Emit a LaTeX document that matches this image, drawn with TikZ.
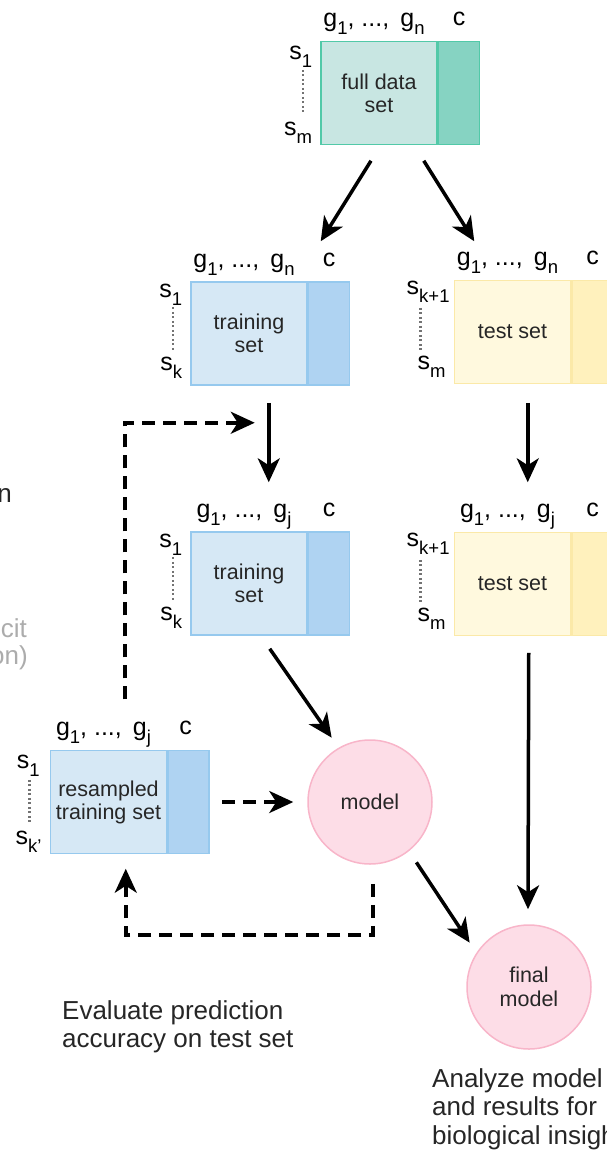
\documentclass[tikz,border=0pt]{standalone}
\usepackage{fontspec}
\setmainfont{Liberation Sans}
\usetikzlibrary{arrows.meta,calc,positioning}
\definecolor{tealfill}{HTML}{C8E6E2}
\definecolor{tealdark}{HTML}{86D3C2}
\definecolor{tealline}{HTML}{52C9A8}
\definecolor{bluefill}{HTML}{D6E8F5}
\definecolor{bluedark}{HTML}{AFD3F2}
\definecolor{blueline}{HTML}{96C9EE}
\definecolor{yellowfill}{HTML}{FFF9DE}
\definecolor{yellowdark}{HTML}{FFF1BD}
\definecolor{yellowline}{HTML}{FBE9A8}
\definecolor{pinkfill}{HTML}{FDDDE7}
\definecolor{pinkline}{HTML}{F8B5C9}
\newcommand\subs[1]{\raisebox{-8pt}{\fontsize{18.5}{18.5}\selectfont #1}}
\tikzset{
    tealset/.style={
           rectangle,
           draw=tealline, fill=tealfill, line width=1.5pt,
           minimum width=116pt, minimum height=103pt,
           inner sep=0pt, align=center, text=black!85,
           font=\fontsize{21.5}{23}\selectfont},
    tealcol/.style={
           rectangle,
           draw=tealline, fill=tealdark, line width=1.5pt,
           minimum width=41pt, minimum height=103pt},
    blueset/.style={tealset, draw=blueline, fill=bluefill},
    bluecol/.style={tealcol, draw=blueline, fill=bluedark},
    yellowset/.style={tealset, draw=yellowline, fill=yellowfill},
    yellowcol/.style={tealcol, draw=yellowline, fill=yellowdark},
    modelnode/.style={
           circle,
           draw=pinkline, fill=pinkfill, line width=1.5pt,
           minimum size=124pt, inner sep=0pt, align=center,
           text=black!85, font=\fontsize{21.5}{24}\selectfont},
    glab/.style = {inner sep=0pt, anchor=base, font=\fontsize{25}{28}\selectfont},
    slab/.style = {glab, anchor=base east},
    dotline/.style = {black!55, line width=2.2pt, dash pattern=on 2pt off 2.5pt},
    caption/.style = {inner sep=0pt, align=left, anchor=north west,
           text=black!85, font=\fontsize{26}{28.5}\selectfont},
    cuttext/.style = {caption, anchor=base east},
    arr/.style = {line width=3.5pt, -{Stealth[length=24pt,width=22pt,inset=7pt]}},
    dasharr/.style = {arr, dash pattern=on 13pt off 8pt}
    }
\begin{document}
\begin{tikzpicture}[x=1pt,y=-1pt]
\useasboundingbox (0,0) rectangle (606,1152);

% full data set
\node[tealset] (full) at (379,93) {full data\\set};
\node[tealcol, right=0pt of full] (fullc) {};
\node[glab] (fullg) at ($(full.north)+(-5,-14)$) {g\subs{1}, ..., \,g\subs{n}};
\node[glab] (fullcl) at ($(fullc.north)+(0,-15)$) {c};
\node[slab] (fulls1) at ($(full.north west)+(-8,19)$) {s\subs{1}};
\node[slab] (fullsm) at ($(full.south west)+(-8,-10)$) {s\subs{m}};
\draw[dotline] ($(fulls1.base west)+(14,10)$) -- ++(0,44);

% training set
\node[blueset] (train) at (249,333.5) {training\\set};
\node[bluecol, right=0pt of train] (trainc) {};
\node[glab] (traing) at ($(train.north)+(-5,-14)$) {g\subs{1}, ..., \,g\subs{n}};
\node[glab] (traincl) at ($(trainc.north)+(0,-15)$) {c};
\node[slab] (trains1) at ($(train.north west)+(-8,16)$) {s\subs{1}};
\node[slab] (trainsk) at ($(train.south west)+(-8,-15)$) {s\subs{k}};
\draw[dotline] ($(trains1.base west)+(14,10)$) -- ++(0,43);

% test set
\node[yellowset] (test) at (512.5,332) {test set};
\node[yellowcol, right=0pt of test] (testc) {};
\node[glab] (testg) at ($(test.north)+(-5,-14)$) {g\subs{1}, ..., \,g\subs{n}};
\node[glab] (testcl) at ($(testc.north)+(0,-15)$) {c};
\node[slab] (tests1) at ($(test.north west)+(-4,15)$) {s\subs{k+1}};
\node[slab] (testsm) at ($(test.south west)+(-8,-15)$) {s\subs{m}};
\draw[dotline] ($(tests1.base west)+(14,13)$) -- ++(0,42);

% selected training set
\node[blueset] (trainsel) at (249,583.5) {training\\set};
\node[bluecol, right=0pt of trainsel] (trainselc) {};
\node[glab] (trainselg) at ($(trainsel.north)+(-5,-14)$) {g\subs{1}, ..., \,g\subs{j}};
\node[glab] (trainselcl) at ($(trainselc.north)+(0,-15)$) {c};
\node[slab] (trainsels1) at ($(trainsel.north west)+(-8,16)$) {s\subs{1}};
\node[slab] (trainselsk) at ($(trainsel.south west)+(-8,-15)$) {s\subs{k}};
\draw[dotline] ($(trainsels1.base west)+(14,10)$) -- ++(0,43);

% selected test set
\node[yellowset] (testsel) at (512.5,584) {test set};
\node[yellowcol, right=0pt of testsel] (testselc) {};
\node[glab] (testselg) at ($(testsel.north)+(-5,-14)$) {g\subs{1}, ..., \,g\subs{j}};
\node[glab] (testselcl) at ($(testselc.north)+(0,-15)$) {c};
\node[slab] (testsels1) at ($(testsel.north west)+(-4,15)$) {s\subs{k+1}};
\node[slab] (testselsm) at ($(testsel.south west)+(-8,-15)$) {s\subs{m}};
\draw[dotline] ($(testsels1.base west)+(14,13)$) -- ++(0,42);

% resampled training set
\node[blueset] (resamp) at (108.5,802) {resampled\\training set};
\node[bluecol, right=0pt of resamp] (resampc) {};
\node[glab] (resampg) at ($(resamp.north)+(-5,-14)$) {g\subs{1}, ..., \,g\subs{j}};
\node[glab] (resampcl) at ($(resampc.north)+(-3,-15)$) {c};
\node[slab] (resamps1) at ($(resamp.north west)+(-10,19)$) {s\subs{1}};
\node[slab] (resampsk) at ($(resamp.south west)+(-8,-10)$) {s\subs{k'}};
\draw[dotline] ($(resamps1.base west)+(13,11)$) -- ++(0,43);

% models
\node[modelnode] (model) at (370,802) {model};
\node[modelnode] (final) at (529,987) {final\\model};

% texts
\node[caption] (evaltext) at (62,1000) {Evaluate prediction\\accuracy on test set};
\node[caption] (analyzetext) at (432,1068) {Analyze model\\and results for\\biological insight};
\node[cuttext] (leftn) at (12,502) {n};
\node[cuttext, text=gray!65] (leftcit) at (27,637) {cit};
\node[cuttext, text=gray!65] (lefton) at (28,664) {on)};

% arrows
\draw[arr] ($(full.south)+(-8,15.5)$) -- ($(train.north east)+(13,-40)$);
\draw[arr] ($(full.south east)+(-14,15.5)$) -- ($(test.north west)+(20.5,-38.5)$);
\draw[arr] ($(train.south east)+(-39,17)$) -- ($(trainsel.north east)+(-39,-49)$);
\draw[arr] ($(test.south east)+(-43.5,18.5)$) -- ($(testsel.north east)+(-43.5,-49.5)$);
\draw[arr] ($(trainsel.south east)+(-38,13)$) -- ($(model.north west)+(6,-20)$);
\draw[arr] ($(testsel.south east)+(-42.5,16.5)$) -- ($(final.north)+(-1,-15)$);
\draw[arr] ($(model.south east)+(2,16)$) -- ($(final.north west)+(-15,0)$);
\draw[dasharr] ($(resamp.north east)+(-42.5,-50.5)$) |- ($(train.south east)+(-53,37)$);
\draw[dasharr, shorten <=12.5pt, shorten >=14pt] (resampc.east) -- (model.west);
\draw[dasharr] ($(model.south)+(3,19)$) -- ++(0,51) -| ($(resamp.south east)+(-41.5,14.5)$);
\end{tikzpicture}
\end{document}
